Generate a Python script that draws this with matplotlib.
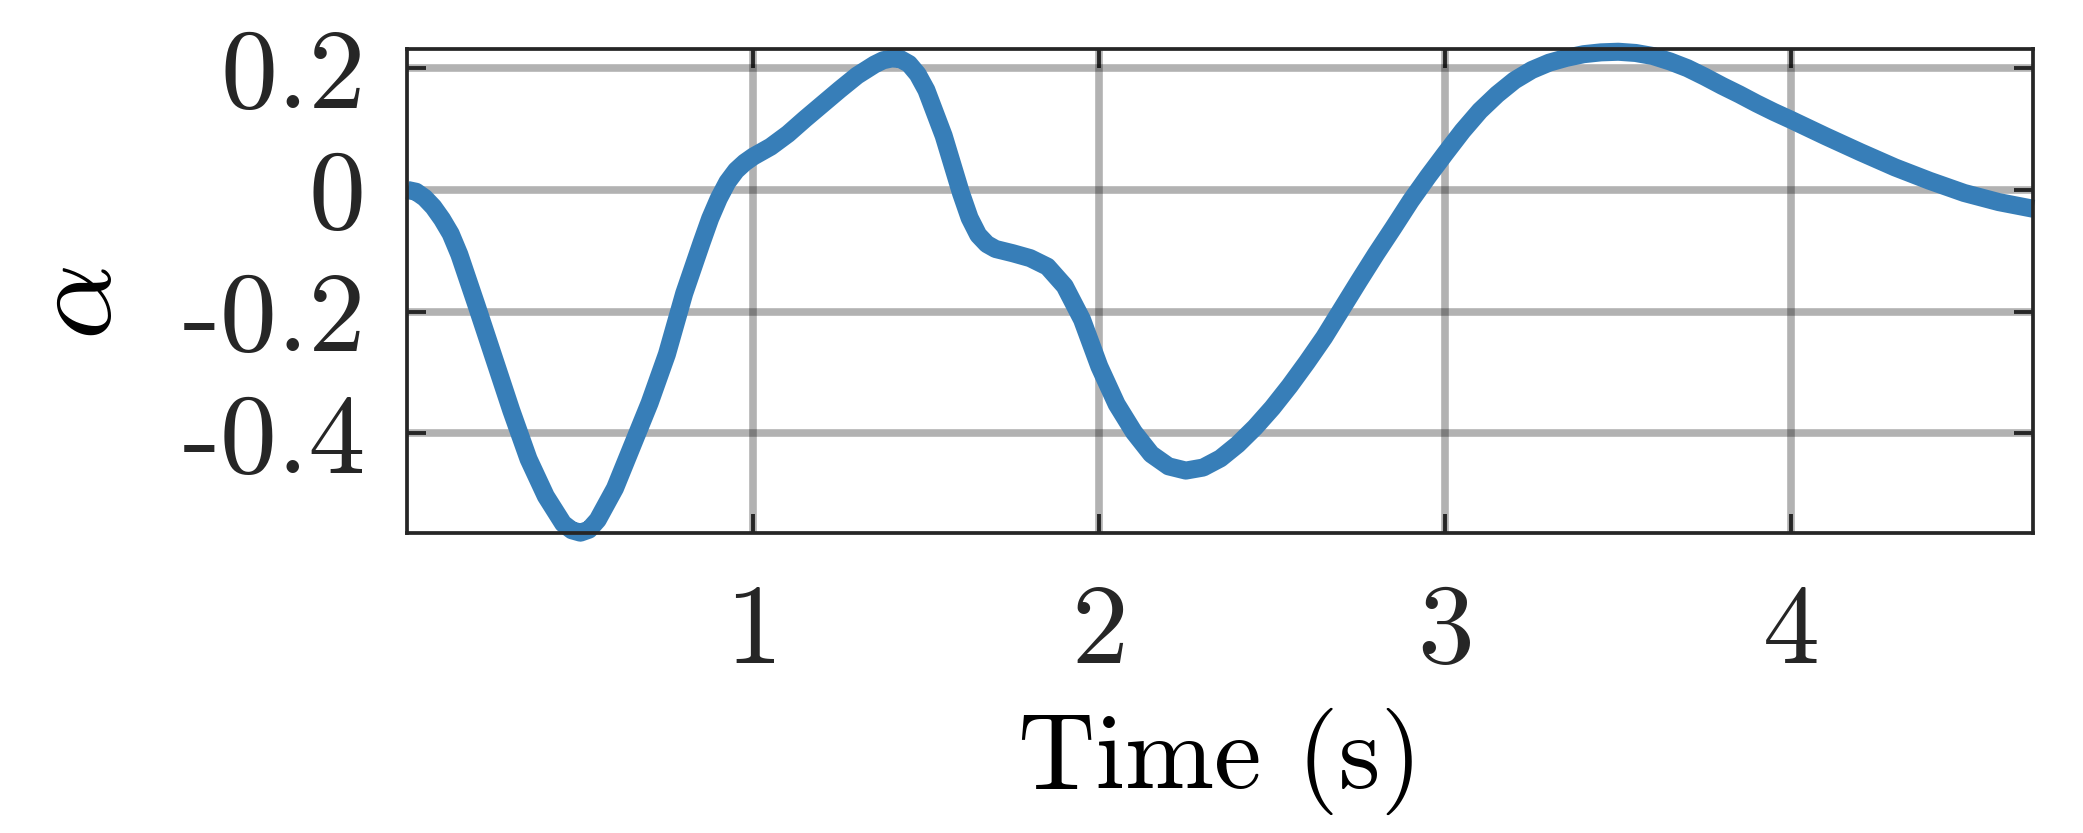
import matplotlib
matplotlib.use("Agg")
import matplotlib.pyplot as plt

# values
time_s = [0.000, 0.025, 0.050, 0.075, 0.100, 0.125, 0.150, 0.200, 0.250, 0.300,
          0.350, 0.400, 0.450, 0.475, 0.500, 0.525, 0.550, 0.600, 0.650, 0.700,
          0.750, 0.800, 0.850, 0.875, 0.900, 0.925, 0.950, 0.975, 1.000, 1.050,
          1.100, 1.150, 1.200, 1.250, 1.300, 1.350, 1.375, 1.400, 1.425, 1.450,
          1.475, 1.500, 1.550, 1.575, 1.600, 1.625, 1.650, 1.675, 1.700, 1.750,
          1.800, 1.850, 1.900, 1.950, 2.000, 2.050, 2.100, 2.150, 2.200, 2.250,
          2.300, 2.350, 2.400, 2.450, 2.500, 2.550, 2.600, 2.650, 2.700, 2.750,
          2.800, 2.850, 2.900, 2.950, 3.000, 3.050, 3.100, 3.150, 3.200, 3.250,
          3.300, 3.350, 3.400, 3.450, 3.500, 3.550, 3.600, 3.650, 3.700, 3.750,
          3.800, 3.850, 3.900, 3.950, 4.000, 4.100, 4.200, 4.300, 4.400, 4.500,
          4.600, 4.700]
alpha = [0.000, -0.003, -0.013, -0.028, -0.048, -0.072, -0.106, -0.190, -0.276, -0.362,
         -0.442, -0.503, -0.548, -0.559, -0.563, -0.558, -0.542, -0.490, -0.420, -0.350,
         -0.270, -0.170, -0.087, -0.047, -0.014, 0.013, 0.032, 0.045, 0.055, 0.071,
         0.092, 0.117, 0.141, 0.165, 0.188, 0.206, 0.213, 0.216, 0.215, 0.207,
         0.190, 0.164, 0.089, 0.042, -0.005, -0.046, -0.074, -0.089, -0.097, -0.104,
         -0.112, -0.126, -0.158, -0.213, -0.290, -0.352, -0.398, -0.434, -0.454, -0.461,
         -0.456, -0.441, -0.418, -0.390, -0.358, -0.322, -0.283, -0.242, -0.196, -0.150,
         -0.105, -0.062, -0.018, 0.022, 0.060, 0.097, 0.130, 0.157, 0.180, 0.197,
         0.209, 0.217, 0.223, 0.226, 0.227, 0.225, 0.220, 0.211, 0.200, 0.186,
         0.171, 0.157, 0.142, 0.128, 0.115, 0.088, 0.062, 0.037, 0.015, -0.005,
         -0.020, -0.031]

x_ticks = [1, 2, 3, 4]
x_labels = ["1", "2", "3", "4"]
y_ticks = [-0.4, -0.2, 0, 0.2]
y_labels = ["-0.4", "-0.2", "0", "0.2"]

dark = "#262626"
plt.rcParams["font.family"] = "serif"
plt.rcParams["font.serif"] = ["cmr10"]
plt.rcParams["mathtext.fontset"] = "cm"
plt.rcParams["axes.unicode_minus"] = False
plt.rcParams["text.color"] = dark

fig = plt.figure(figsize=(20.83, 8.33), dpi=100)
ax = fig.add_axes([0.1956, 0.3598, 0.7806, 0.5810])

ax.plot(time_s, alpha, color="#377eb8", lw=13, clip_on=False, zorder=5,
        solid_capstyle="butt", solid_joinstyle="round")

ax.set_xlim(0, 4.70)
ax.set_ylim(-0.564, 0.231)
ax.set_xticks(x_ticks)
ax.set_xticklabels(x_labels)
ax.set_yticks(y_ticks)
ax.set_yticklabels(y_labels)

ax.grid(True, color="black", alpha=0.3, lw=5.5)
ax.set_axisbelow(True)
for s in ax.spines.values():
    s.set_color(dark)
    s.set_linewidth(2.7)
    s.set_zorder(6)

ax.tick_params(axis="both", direction="in", length=13.5, width=2.8, color=dark,
               labelcolor=dark, labelsize=82)
ax.tick_params(axis="x", top=True, pad=37)
ax.tick_params(axis="y", right=True, pad=30)

ax.set_xlabel("Time (s)", fontsize=77)
ax.set_ylabel(r"$\alpha$", fontsize=86)
ax.xaxis.set_label_coords(0.5, -0.36)
ax.yaxis.set_label_coords(-0.168, 0.475)

fig.savefig("out.png", dpi=100)
